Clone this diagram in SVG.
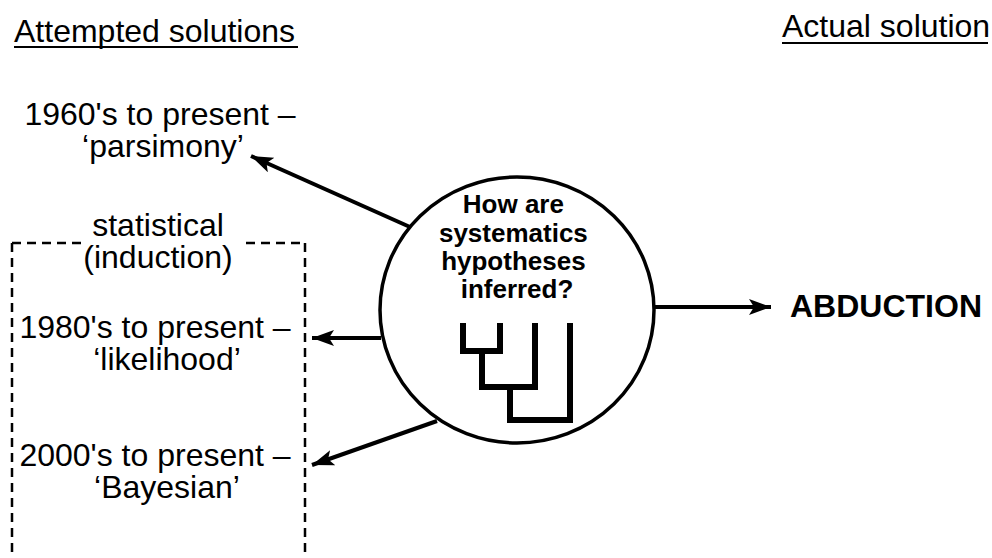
<svg xmlns="http://www.w3.org/2000/svg" width="992" height="558" viewBox="0 0 992 558">
<style>
  .t { font-family: "Liberation Sans", Arial, sans-serif; font-size: 32px; fill: #000; }
  .b { font-family: "Liberation Sans", Arial, sans-serif; font-weight: bold; fill: #000; }
  .arr { stroke: #000; stroke-width: 4; fill: none; marker-end: url(#ah); }
  .ul { stroke: #000; stroke-width: 2.2; }
  .dash { stroke: #000; stroke-width: 2.5; fill: none; stroke-dasharray: 9 6; }
  .tree { stroke: #000; stroke-width: 6; fill: none; stroke-linecap: square; stroke-linejoin: miter; }
</style>
<defs>
  <marker id="ah" markerUnits="userSpaceOnUse" markerWidth="24" markerHeight="18" refX="22" refY="8" orient="auto">
    <path d="M0,0 L22,8 L0,16 L5,8 z" fill="#000"/>
  </marker>
</defs>
<rect width="992" height="558" fill="#fff"/>

<g id="heading-attempted">
  <text class="t" x="14" y="42">Attempted solutions</text>
  <line class="ul" x1="14" y1="47" x2="298" y2="47"/>
</g>
<g id="heading-actual">
  <text class="t" x="782" y="37">Actual solution</text>
  <line class="ul" x1="782" y1="43" x2="988" y2="43"/>
</g>

<g id="statistical-box">
  <path class="dash" d="M12,243 H82"/>
  <path class="dash" d="M246,243 H305"/>
  <path class="dash" d="M12,243 V558"/>
  <path class="dash" d="M305,243 V558"/>
  <text class="t" x="158" y="236" text-anchor="middle">statistical</text>
  <text class="t" x="158" y="268" text-anchor="middle">(induction)</text>
</g>

<g id="parsimony">
  <text class="t" x="160" y="125" text-anchor="middle">1960's to present –</text>
  <text class="t" x="163" y="157" text-anchor="middle">‘parsimony’</text>
</g>
<g id="likelihood">
  <text class="t" x="155" y="338" text-anchor="middle">1980's to present –</text>
  <text class="t" x="167" y="370" text-anchor="middle">‘likelihood’</text>
</g>
<g id="bayesian">
  <text class="t" x="155" y="466" text-anchor="middle">2000's to present –</text>
  <text class="t" x="167" y="498" text-anchor="middle">‘Bayesian’</text>
</g>

<g id="question">
  <ellipse cx="517" cy="310" rx="137" ry="133" fill="none" stroke="#000" stroke-width="3.5"/>
  <text class="b" font-size="26" text-anchor="middle">
    <tspan x="517" y="213">How are</tspan>
    <tspan x="517" y="241.5">systematics</tspan>
    <tspan x="517" y="270">hypotheses</tspan>
    <tspan x="517" y="298">inferred?</tspan>
  </text>
  <path class="tree" d="M463,326 V351 H500 V326 M482,351 V387 H535 V326 M510,387 V420 H570 V326"/>
</g>

<g id="abduction">
  <text class="b" font-size="32" x="790" y="317">ABDUCTION</text>
</g>

<g id="connectors">
  <line class="arr" x1="410" y1="227" x2="251" y2="156"/>
  <line class="arr" x1="381" y1="338" x2="312" y2="338"/>
  <line class="arr" x1="437" y1="421" x2="312" y2="465"/>
  <line class="arr" x1="655" y1="307" x2="771" y2="307"/>
</g>
</svg>
